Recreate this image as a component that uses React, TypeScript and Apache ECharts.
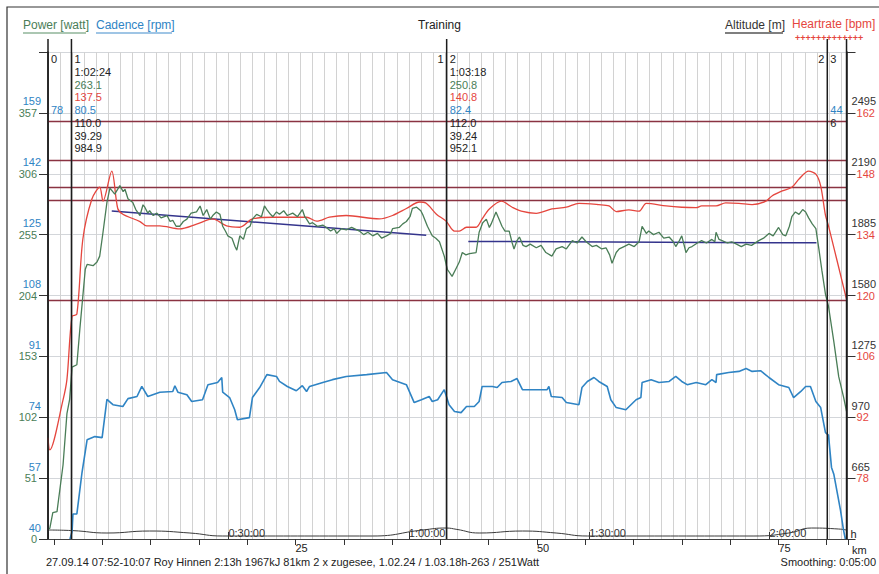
import React, { useEffect, useRef } from 'react';
import * as echarts from 'echarts';

const FONT = '"Liberation Sans", Arial, Helvetica, sans-serif';

const timeMax = 132.8; // minutes
const kmMax = 82.2;

// [minute, watt]
const power: number[][] = [
  [0, 8], [0.3, 9], [0.8, 22], [1.5, 23], [2.5, 62], [3.15, 105], [3.6, 117], [4.0, 144], [4.8, 146], [5.3, 176],
  [6.2, 226], [6.5, 230], [7.5, 229], [8.15, 232], [8.6, 237], [9.15, 257], [9.8, 282], [10.3, 294], [11.1, 289],
  [11.95, 296], [12.5, 291], [12.8, 293], [13.3, 285], [14.1, 282], [14.6, 276], [15.3, 271], [15.8, 280], [16.1, 278],
  [16.6, 273], [16.9, 275], [17.5, 271], [18.1, 273], [18.8, 269], [19.8, 271], [20.3, 266], [20.75, 267], [21.3, 262],
  [21.9, 262], [22.5, 266], [23.1, 268], [23.8, 273], [24.7, 274], [25.3, 279], [25.8, 271], [26.4, 276], [27.0, 268],
  [27.4, 271], [28.0, 274], [28.6, 272], [29.05, 262], [29.5, 258], [29.9, 254], [30.6, 252], [31.1, 245], [31.4, 242],
  [31.9, 254], [32.5, 251], [33.0, 260], [33.6, 262], [34.0, 268], [34.7, 272], [35.5, 270], [36.0, 279], [36.4, 276],
  [37.0, 272], [37.4, 270], [38.0, 274], [38.5, 272], [39.2, 275], [39.8, 271], [40.7, 273], [41.5, 270], [42.3, 276],
  [42.7, 270], [43.0, 268], [43.5, 264], [44.0, 265], [44.8, 262], [45.7, 263], [46.3, 261], [47.0, 258], [47.6, 260],
  [48.0, 256], [48.8, 260], [49.6, 259], [50.5, 261], [51.8, 258], [52.5, 255], [53.2, 257], [54.0, 254], [54.8, 256],
  [55.5, 252], [56.3, 254], [57.0, 256], [57.3, 260], [58.4, 261], [59.0, 264], [59.6, 266], [60.2, 270], [60.6, 277],
  [61.3, 278], [62.0, 275], [62.3, 272], [63.1, 262], [63.9, 254], [64.5, 252], [65.1, 249], [65.9, 237], [66.4, 226],
  [67.2, 220], [67.8, 226], [68.4, 232], [68.9, 240], [69.5, 238], [70.1, 239], [71.2, 240], [71.7, 257], [72.3, 265],
  [72.9, 268], [73.4, 261], [73.7, 264], [74.5, 274], [75.0, 268], [75.5, 262], [76.0, 258], [76.7, 258], [77.2, 248],
  [77.5, 243], [78.0, 250], [78.4, 253], [79.0, 246], [79.5, 245], [80.2, 247], [81.2, 244], [82.0, 246], [82.8, 240],
  [83.8, 237], [84.5, 243], [85.5, 245], [86.2, 243], [87.2, 250], [88.0, 248], [88.8, 253], [89.5, 249], [90.5, 245],
  [91.2, 246], [92.1, 243], [92.8, 244], [93.4, 238], [93.8, 231], [94.5, 240], [95.0, 243], [95.8, 245], [96.6, 247],
  [97.5, 245], [98.3, 249], [98.8, 262], [99.5, 256], [99.9, 258], [100.7, 255], [101.6, 257], [102.4, 252], [103.3, 253],
  [104.0, 249], [104.4, 245], [105.0, 250], [105.4, 254], [106.1, 240], [106.6, 244], [107.1, 245], [108.0, 248],
  [108.7, 250], [109.5, 248], [110.4, 251], [110.9, 249], [111.1, 257], [111.6, 251], [112.1, 250], [113.0, 248],
  [113.7, 249], [114.5, 247], [115.3, 245], [116.1, 247], [117.0, 246], [118.2, 250], [119.0, 252], [119.9, 256],
  [120.6, 254], [121.5, 261], [122.2, 255], [122.7, 254], [123.3, 262], [123.7, 270], [124.3, 274], [124.9, 272],
  [125.5, 276], [126.0, 274], [126.5, 269], [127.1, 264], [127.7, 260], [128.2, 243], [128.7, 225], [129.3, 205],
  [129.8, 195], [130.7, 165], [131.5, 136], [132.3, 119], [132.8, 107],
];

// [minute, rpm]
const cadence: number[][] = [
  [3.65, 40], [4.0, 42], [4.15, 47], [4.8, 47], [5.65, 58.5], [6.5, 67.7], [7.8, 68.6], [9.0, 68.3], [9.8, 79],
  [10.8, 77.5], [12.45, 77], [13.3, 79.2], [14.8, 79.8], [15.6, 82.6], [16.6, 79.8], [18.6, 81], [20.75, 81.2],
  [21.1, 82.8], [21.6, 81], [23.1, 80.3], [23.9, 78.4], [25.7, 78.9], [26.6, 83.1], [28.2, 83.7], [28.9, 85.1],
  [29.05, 81], [30.2, 79.5], [31.05, 76.1], [31.5, 73.3], [33.5, 73.9], [34.0, 79.5], [35.2, 82.3], [36.4, 85.9],
  [38.0, 85.4], [38.5, 84], [39.8, 82.6], [41.3, 81.4], [42.3, 82.8], [43.0, 81.2], [43.5, 82.6], [45.7, 83.7],
  [47.3, 84.5], [49.6, 85.4], [53.0, 85.9], [56.3, 86.5], [57.3, 84.5], [59.6, 83.1], [60.9, 78.1], [62.1, 78.9],
  [63.4, 79.8], [63.9, 78.4], [64.8, 78.9], [65.9, 81.7], [66.7, 77.5], [67.6, 75.6], [68.7, 75.3], [69.6, 77],
  [70.9, 77], [71.7, 78.4], [72.2, 82.6], [73.9, 82.6], [74.7, 82.3], [75.5, 83.7], [77.0, 84], [78.0, 84.8],
  [78.9, 81.7], [81.2, 81.7], [83.0, 81.7], [83.3, 82.6], [83.7, 79.8], [85.5, 79.5], [86.2, 78.1], [88.3, 77.5],
  [88.8, 82.3], [89.7, 84], [90.8, 85.1], [91.6, 84], [93.0, 82.6], [93.6, 78.9], [94.5, 76.7], [96.1, 76.1],
  [97.8, 78.9], [98.6, 79.5], [98.8, 83.7], [100.3, 84.5], [101.6, 83.7], [103.3, 84], [104.4, 85.4], [105.4, 84],
  [106.3, 83.1], [107.8, 83.7], [109.4, 83.1], [110.4, 84.5], [111.1, 83.7], [111.2, 85.9], [113.2, 86.5],
  [114.9, 86.8], [116.1, 87.6], [117.1, 86.8], [118.5, 87], [119.9, 85.1], [121.5, 83.1], [123.2, 82.3], [124.0, 79.5],
  [125.2, 81.2], [126.0, 82.6], [126.8, 82.6], [127.7, 78.4], [128.5, 76.7], [129.3, 69.7], [129.8, 69], [130.3, 60],
  [130.7, 58], [131.8, 48], [132.3, 42.5], [132.6, 40],
];

// [minute, bpm]
const heartrate: number[][] = [
  [0, 87.3], [0.3, 84.5], [2.5, 96], [3.15, 100.7], [4.0, 115.2], [4.8, 115.7], [5.8, 133], [7.3, 142.2], [8.6, 144.9],
  [9.15, 141.7], [10.6, 148.6], [11.6, 140], [12.45, 138.7], [15.3, 137], [16.4, 136], [18.6, 136], [21.9, 135.3],
  [24.7, 136.4], [27.4, 137.6], [29.7, 136], [31.9, 135.7], [34.0, 137.6], [37.4, 138], [43.0, 138], [44.7, 137.1],
  [46.8, 138], [49.6, 138.4], [55.1, 137.6], [57.3, 138.4], [59.6, 140], [61.8, 141.5], [62.9, 141.2], [64.6, 138.7],
  [66.2, 137.1], [67.6, 134.8], [68.4, 134.8], [69.6, 135.7], [71.2, 135.7], [72.2, 137.6], [73.4, 139.9], [75.4, 141.7],
  [77.2, 140.3], [78.7, 139.4], [81.2, 138.9], [83.8, 139.9], [86.2, 140.3], [88.3, 141.2], [91.6, 140.9], [93.3, 140.6],
  [94.5, 139.3], [96.6, 139.7], [98.3, 139.4], [99.5, 141.2], [102.8, 140.6], [105.4, 140.3], [107.8, 140.2],
  [108.7, 140.6], [111.1, 140.6], [112.7, 141.3], [114.9, 141.2], [117.1, 140.9], [119.4, 141.7], [120.4, 142.9],
  [122.0, 144], [123.7, 144.9], [124.9, 146.8], [126.5, 148.6], [127.7, 147.9], [128.5, 145.2], [129.3, 138.4],
  [129.8, 136], [132.8, 119.1],
];

// [minute, metres]
const altitude: number[][] = [
  [0, 405], [4.15, 402], [9.8, 390], [16.9, 400], [23.6, 390], [29.05, 375], [54.0, 375], [62.3, 405], [66.2, 415],
  [68.0, 408], [71.7, 390], [78.9, 400], [84.5, 390], [89.7, 375], [117.4, 375], [123.2, 390], [127.0, 415],
  [131.5, 410], [132.8, 405],
];

const heartrateZones = [160, 151, 145, 142, 119];
const trendInterval1 = [[10.6, 274.7], [62.9, 254.5]];
const trendInterval2 = [[69.9, 249.3], [127.8, 248.1]];

const markerTimes = [0, 3.9, 66.3, 129.6, 132.8];
const markerLeft = ['', '', '1', '2', ''];
const markerRight = ['0', '1', '2', '3', ''];
const lapDuration = ['', '1:02:24', '1:03:18', '', ''];
const lapPower = ['', '263.1', '250.8', '', ''];
const lapHeartrate = ['', '137.5', '140.8', '', ''];
const lapCadence = ['78', '80.5', '82.4', '44', ''];
const lapAltitude = ['', '110.0', '112.0', '6', ''];
const lapSpeed = ['', '39.29', '39.24', '', ''];
const lapEnergy = ['', '984.9', '952.1', '', ''];

const C_POWER = '#4a7d57';
const C_CAD = '#2f84c4';
const C_HR = '#e5463e';
const C_ALT = '#3a3a3a';
const C_ZONE = '#8a3342';
const C_TREND = '#34348c';

const footer = '27.09.14 07:52-10:07 Roy Hinnen 2:13h 1967kJ 81km 2 x zugesee, 1.02.24 / 1.03.18h-263 / 251Watt';

const fmtTime = (v: number) => {
  if (v === 0 || v % 30 !== 0) return '';
  const h = Math.floor(v / 60);
  const m = v % 60;
  return `${h}:${String(m).padStart(2, '0')}:00`;
};

export default function App() {
  const ref = useRef<HTMLDivElement>(null);
  useEffect(() => {
    if (!ref.current) return;
    const chart = echarts.init(ref.current, null, { renderer: 'svg' });
    const font11 = `11px ${FONT}`;
    const txt = (text: string, x: number, y: number, fill: string, align: string) => ({
      type: 'text',
      style: { text, x, y, fill, font: font11, align, verticalAlign: 'middle' },
    });
    const hidden = { onZero: false, show: false };
    const option: any = {
      animation: false,
      backgroundColor: '#ffffff',
      textStyle: { fontFamily: FONT },
      title: {
        text: 'Training', left: 'center', top: 14,
        textStyle: { fontSize: 12, fontWeight: 'normal', color: '#222', fontFamily: FONT },
      },
      grid: [
        { left: 48, right: 31, top: 52, bottom: 35 },
        { left: 54, right: 31, top: 52, bottom: 35 },
      ],
      xAxis: [
        {
          type: 'value', gridIndex: 0, min: 0, max: timeMax, interval: 2, position: 'bottom',
          axisLine: { onZero: false, show: true, lineStyle: { color: '#444', width: 1 } },
          axisTick: { show: false }, axisLabel: { show: false },
          splitLine: { show: true, lineStyle: { color: '#d2d2d2', width: 1 } },
        },
        {
          type: 'value', gridIndex: 0, min: 0, max: timeMax, interval: 30, position: 'bottom',
          axisLine: hidden,
          axisTick: { show: true, inside: true, length: 7, lineStyle: { color: '#333' } },
          axisLabel: {
            show: true, inside: true, formatter: fmtTime, align: 'left', verticalAlign: 'bottom',
            margin: 1, color: '#333', fontSize: 11, fontFamily: FONT,
          },
          splitLine: { show: false },
          name: 'h', nameLocation: 'end', nameGap: 4,
          nameTextStyle: { color: '#222', fontSize: 11, fontFamily: FONT, verticalAlign: 'bottom' },
        },
        {
          type: 'value', gridIndex: 1, min: 0, max: kmMax, interval: 5, position: 'bottom',
          axisLine: hidden,
          axisTick: { show: true, inside: false, length: 6, lineStyle: { color: '#333' } },
          axisLabel: {
            show: true, formatter: (v: number) => (v === 25 || v === 50 || v === 75 ? String(v) : ''),
            align: 'left', margin: 3, color: '#222', fontSize: 11, fontFamily: FONT,
          },
          splitLine: { show: false },
          name: 'km', nameLocation: 'end', nameGap: 4,
          nameTextStyle: { color: '#222', fontSize: 11, fontFamily: FONT, verticalAlign: 'top', padding: [5, 0, 0, 0] },
        },
      ],
      yAxis: [
        {
          type: 'value', gridIndex: 0, min: 0, max: 408, interval: 51, position: 'left',
          axisLine: { onZero: false, show: true, lineStyle: { color: '#222', width: 1.5 } },
          axisTick: { show: true, length: 9, lineStyle: { color: '#333' } },
          axisLabel: {
            formatter: (v: number) => (v >= 408 ? '' : String(v)),
            color: C_POWER, fontSize: 11, margin: 11, fontFamily: FONT,
          },
          splitLine: { show: true, lineStyle: { color: '#d3d6da', width: 1 } },
        },
        {
          type: 'value', gridIndex: 0, min: 0, max: 408, interval: 51, position: 'left',
          axisLine: hidden, axisTick: { show: false }, splitLine: { show: false },
          axisLabel: {
            formatter: (v: number) => (v >= 408 ? '' : String(Math.round(40 + v / 3))),
            color: C_CAD, fontSize: 11, margin: 7, verticalAlign: 'bottom', padding: [0, 0, 6, 0], fontFamily: FONT,
          },
        },
        {
          type: 'value', gridIndex: 0, min: 0, max: 408, interval: 51, position: 'right',
          axisLine: { onZero: false, show: true, lineStyle: { color: '#222', width: 1.5 } },
          axisTick: { show: true, length: 9, lineStyle: { color: '#333' } },
          splitLine: { show: false },
          axisLabel: {
            formatter: (v: number) => (v === 0 || v >= 408 ? '' : String(Math.round(64 + (v * 14) / 51))),
            color: C_HR, fontSize: 11, margin: 10, fontFamily: FONT,
          },
        },
        {
          type: 'value', gridIndex: 0, min: 0, max: 408, interval: 51, position: 'right',
          axisLine: hidden, axisTick: { show: false }, splitLine: { show: false },
          axisLabel: {
            formatter: (v: number) => (v === 0 || v >= 408 ? '' : String(Math.round(360 + (v * 305) / 51))),
            color: '#333', fontSize: 11, margin: 5, verticalAlign: 'bottom', padding: [0, 0, 6, 0], fontFamily: FONT,
          },
        },
        { type: 'value', gridIndex: 0, min: 40, max: 176, show: false },
        { type: 'value', gridIndex: 0, min: 64, max: 176, show: false },
        { type: 'value', gridIndex: 0, min: 360, max: 2800, show: false },
        { type: 'value', gridIndex: 1, min: 0, max: 1, show: false },
      ],
      series: [
        {
          name: 'Altitude [m]', type: 'line', xAxisIndex: 0, yAxisIndex: 6, data: altitude, smooth: true,
          showSymbol: false, lineStyle: { color: C_ALT, width: 1 }, z: 3,
        },
        {
          name: 'Cadence [rpm]', type: 'line', xAxisIndex: 0, yAxisIndex: 4, data: cadence,
          showSymbol: false, lineStyle: { color: C_CAD, width: 1.6 }, z: 4,
        },
        {
          name: 'Heartrate [bpm]', type: 'line', xAxisIndex: 0, yAxisIndex: 5, data: heartrate, smooth: 0.3,
          showSymbol: false, lineStyle: { color: C_HR, width: 1.3 }, z: 5,
          markLine: {
            silent: true, symbol: 'none', label: { show: false },
            lineStyle: { color: C_ZONE, width: 1.3, type: 'solid' },
            data: heartrateZones.map((v) => ({ yAxis: v })),
          },
        },
        {
          name: 'Power [watt]', type: 'line', xAxisIndex: 0, yAxisIndex: 0, data: power,
          showSymbol: false, lineStyle: { color: C_POWER, width: 1.3 }, z: 6,
          markLine: {
            silent: true, symbol: 'none', label: { show: false },
            lineStyle: { color: C_TREND, width: 1.5, type: 'solid' },
            data: [
              [{ coord: trendInterval1[0] }, { coord: trendInterval1[1] }],
              [{ coord: trendInterval2[0] }, { coord: trendInterval2[1] }],
            ],
          },
        },
        {
          type: 'custom', xAxisIndex: 0, yAxisIndex: 0, z: 10, clip: false,
          encode: { x: 0, y: 1 },
          data: markerTimes.map((t, i) => [t, i]),
          renderItem: (params: any, api: any) => {
            const t = api.value(0);
            const i = api.value(1);
            const x = api.coord([t, 0])[0];
            const cs = params.coordSys;
            const top = cs.y;
            const bottom = cs.y + cs.height;
            const row = (r: number) => top + 7 + r * 12.75;
            const children: any[] = [
              { type: 'line', shape: { x1: x, y1: top - 13, x2: x, y2: bottom }, style: { stroke: '#1c1c1c', lineWidth: 1.5 } },
            ];
            if (markerLeft[i]) children.push(txt(markerLeft[i], x - 3, row(0), '#222', 'right'));
            if (markerRight[i]) children.push(txt(markerRight[i], x + 3, row(0), '#222', 'left'));
            const cols: [string[], string][] = [
              [lapDuration, '#222'], [lapPower, C_POWER], [lapHeartrate, C_HR], [lapCadence, C_CAD],
              [lapAltitude, '#222'], [lapSpeed, '#222'], [lapEnergy, '#222'],
            ];
            cols.forEach(([arr, col], k) => {
              if (arr[i]) children.push(txt(arr[i], x + 3, row(k + 1), col, 'left'));
            });
            return { type: 'group', children };
          },
        },
      ],
      graphic: [
        { type: 'rect', shape: { x: 7, y: 7, width: 900, height: 600 }, style: { fill: 'none', stroke: '#333', lineWidth: 1.2 }, silent: true },
        { type: 'text', style: { text: 'Power [watt]', x: 23, y: 25, fill: C_POWER, font: `12px ${FONT}`, verticalAlign: 'middle' } },
        { type: 'line', shape: { x1: 23, y1: 33, x2: 86, y2: 33 }, style: { stroke: '#8fb598', lineWidth: 1.5 } },
        { type: 'text', style: { text: 'Cadence [rpm]', x: 96, y: 25, fill: C_CAD, font: `12px ${FONT}`, verticalAlign: 'middle' } },
        { type: 'line', shape: { x1: 96, y1: 33, x2: 172, y2: 33 }, style: { stroke: '#7fb2dc', lineWidth: 1.5 } },
        { type: 'text', style: { text: 'Altitude [m]', x: 725, y: 25, fill: '#333', font: `12px ${FONT}`, verticalAlign: 'middle' } },
        { type: 'line', shape: { x1: 725, y1: 33, x2: 783, y2: 33 }, style: { stroke: '#555', lineWidth: 1.5 } },
        { type: 'text', style: { text: 'Heartrate [bpm]', x: 792, y: 24, fill: C_HR, font: `12px ${FONT}`, verticalAlign: 'middle' } },
        { type: 'text', style: { text: '+++++++++++++', x: 795, y: 38, fill: C_HR, font: `bold 9px ${FONT}`, verticalAlign: 'middle' } },
        { type: 'text', style: { text: footer, x: 46, y: 562, fill: '#222', font: `11px ${FONT}`, verticalAlign: 'middle' } },
        { type: 'text', style: { text: 'Smoothing: 0:05:00', x: 876, y: 562, fill: '#222', font: `11px ${FONT}`, align: 'right', verticalAlign: 'middle' } },
      ],
    };
    chart.setOption(option);
    return () => chart.dispose();
  }, []);
  return <div ref={ref} style={{ position: 'absolute', left: 0, top: 0, width: 879, height: 574 }} />;
}
